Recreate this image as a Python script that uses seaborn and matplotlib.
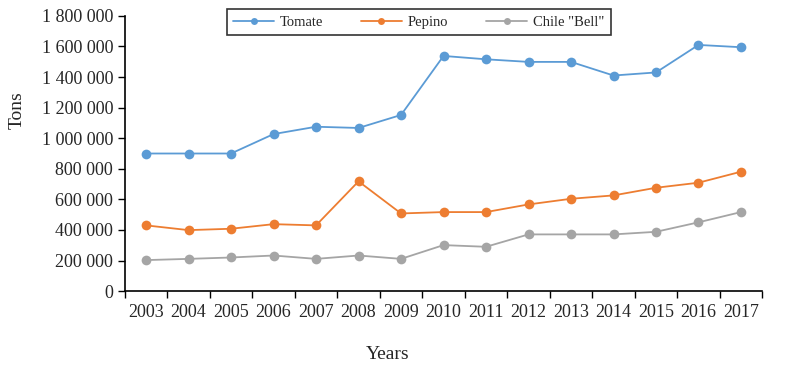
import numpy as np
import pandas as pd
import matplotlib
matplotlib.use("Agg")
import matplotlib.pyplot as plt
from matplotlib.ticker import FuncFormatter, FixedLocator
import seaborn as sns

years = [str(y) for y in range(2003, 2018)]
tomate = [900000, 900000, 900000, 1027000, 1075000, 1067000, 1152000, 1538000,
          1516000, 1499000, 1499000, 1410000, 1430000, 1610000, 1595000]
pepino = [430000, 399000, 408000, 438000, 430000, 718000, 508000, 517000,
          517000, 567000, 604000, 626000, 676000, 709000, 781000]
chile = [203000, 211000, 220000, 233000, 211000, 233000, 211000, 301000,
         290000, 371000, 371000, 371000, 388000, 450000, 517000]
series = ["Tomate", "Pepino", 'Chile "Bell"']
colors = ["#5B9BD5", "#ED7D31", "#A5A5A5"]

df = pd.DataFrame({
    "idx": list(range(len(years))) * 3,
    "value": tomate + pepino + chile,
    "series": [s for s in series for _ in years],
})

sns.set_style("white")
plt.rcParams["font.family"] = ["Liberation Serif", "DejaVu Serif"]

fig = plt.figure(figsize=(7.85, 3.69), dpi=100)
ax = fig.add_axes([0.159, 0.211, 0.812, 0.746])

sns.lineplot(data=df, x="idx", y="value", hue="series", palette=colors,
             marker="o", markersize=7, markeredgewidth=0, linewidth=1.3,
             ax=ax, legend=False)

ax.set_xlim(-0.5, len(years) - 0.5)
ax.set_ylim(0, 1800000)
ax.set_yticks(np.arange(0, 1800001, 200000))
ax.yaxis.set_major_formatter(FuncFormatter(lambda v, p: f"{int(v):,}".replace(",", " ")))

ax.set_xticks(range(len(years)))
ax.set_xticklabels(years)
ax.xaxis.set_minor_locator(FixedLocator(np.arange(-0.5, len(years), 1)))
ax.tick_params(axis="x", which="major", length=0, pad=9, labelsize=13)
ax.tick_params(axis="x", which="minor", length=5, width=1, color="black", direction="out", bottom=True)
ax.tick_params(axis="y", which="major", length=5, width=1, color="black", direction="out", left=True, labelsize=13)

for s in ["top", "right"]:
    ax.spines[s].set_visible(False)
for s in ["left", "bottom"]:
    ax.spines[s].set_color("black")
    ax.spines[s].set_linewidth(1.2)

ax.set_xlabel("Years", fontsize=14)
ax.set_ylabel("Tons", fontsize=14)
ax.xaxis.set_label_coords(0.413, -0.20)
ax.yaxis.set_label_coords(-0.156, 0.658)

handles = [plt.Line2D([], [], color=c, marker="o", markersize=5, markeredgewidth=0, linewidth=1.3)
           for c in colors]
leg = ax.legend(handles, series, ncol=3, loc="upper center", bbox_to_anchor=(0.461, 1.052),
                frameon=True, fancybox=False, fontsize=10.5, handlelength=2.8,
                handletextpad=0.4, columnspacing=2.6, borderpad=0.45)
leg.get_frame().set_edgecolor("black")
leg.get_frame().set_linewidth(1.2)

fig.savefig("out.png", dpi=100)
